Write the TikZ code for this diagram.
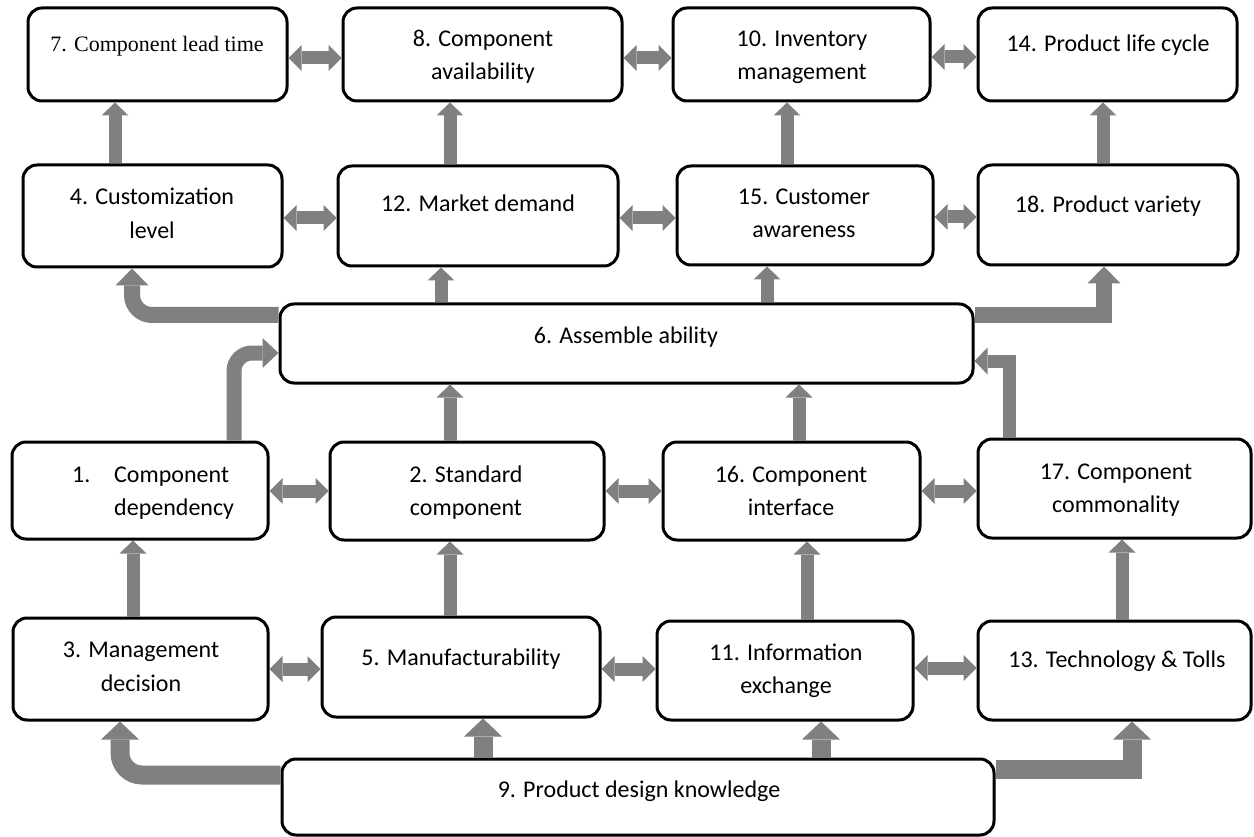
\documentclass[tikz,border=0pt]{standalone}
\usepackage{fontspec}
\setmainfont{Carlito}
\newfontfamily\timesfont{Liberation Serif}
\usetikzlibrary{arrows.meta,fit}
\definecolor{arrgray}{RGB}{128,128,128}
\begin{document}
\begin{tikzpicture}[x=1pt,y=-1pt,
  box/.style={draw=black,line width=3pt,rounded corners=14pt,fill=white,inner sep=0pt},
  txt/.style={inner sep=0pt,anchor=base,font=\fontsize{24}{29}\selectfont},
  ttxt/.style={inner sep=0pt,anchor=base,font=\timesfont\fontsize{22}{27}\selectfont},
  arr/.style n args={3}{draw=arrgray,line width=#1,-{Triangle[width=#2,length=#3,line width=0pt]}},
  arrS/.style={arr={13pt}{27pt}{13pt}},
  arrM/.style={arr={16pt}{33pt}{17pt}},
  arrL/.style={arr={19pt}{38pt}{18pt}},
  dbl/.style={draw=arrgray,line width=13pt,{Triangle[width=26pt,length=13pt,line width=0pt]}-{Triangle[width=26pt,length=13pt,line width=0pt]}}
]
\useasboundingbox (0,0) rectangle (1254,837);
% boxes
\node[box,fit={(28,8) (287,101)}] (b7) {};
\node[box,fit={(343,8) (622,101)}] (b8) {};
\node[box,fit={(673,8) (930,101)}] (b10) {};
\node[box,fit={(978,8) (1237,101)}] (b14) {};
\node[box,fit={(23,165) (282,267)}] (b4) {};
\node[box,fit={(338,166) (618,266)}] (b12) {};
\node[box,fit={(677,166) (933,265)}] (b15) {};
\node[box,fit={(978,165) (1238,265)}] (b18) {};
\node[box,fit={(280,304) (973,383)}] (b6) {};
\node[box,fit={(12,442) (268,539)}] (b1) {};
\node[box,fit={(330,442) (604,540)}] (b2) {};
\node[box,fit={(663,442) (920,540)}] (b16) {};
\node[box,fit={(978,439) (1251,538)}] (b17) {};
\node[box,fit={(13,618) (268,720)}] (b3) {};
\node[box,fit={(322,617) (600,717)}] (b5) {};
\node[box,fit={(657,621) (913,720)}] (b11) {};
\node[box,fit={(978,621) (1251,720)}] (b13) {};
\node[box,fit={(282,759) (994,835)}] (b9) {};
% texts
\node[ttxt] (t7) at (157,52) {7. Component lead time};
\node[txt] (t8a) at (483,47) {8. Component};
\node[txt] (t8b) at (483,80) {availability};
\node[txt] (t10a) at (802,47) {10. Inventory};
\node[txt] (t10b) at (802,80) {management};
\node[txt] (t14) at (1108,52) {14. Product life cycle};
\node[txt] (t4a) at (152,205) {4. Customization};
\node[txt] (t4b) at (152,239) {level};
\node[txt] (t12) at (478,212) {12. Market demand};
\node[txt] (t15a) at (804,205) {15. Customer};
\node[txt] (t15b) at (804,238) {awareness};
\node[txt] (t18) at (1108,213) {18. Product variety};
\node[txt] (t6) at (626,343) {6. Assemble ability};
\node[txt,anchor=base west] (t1n) at (72,482) {1.};
\node[txt,anchor=base west] (t1a) at (114,482) {Component};
\node[txt,anchor=base west] (t1b) at (114,515) {dependency};
\node[txt] (t2a) at (466,482) {2. Standard};
\node[txt] (t2b) at (466,515) {component};
\node[txt] (t16a) at (791,482) {16. Component};
\node[txt] (t16b) at (791,515) {interface};
\node[txt] (t17a) at (1116,479) {17. Component};
\node[txt] (t17b) at (1116,512) {commonality};
\node[txt] (t3a) at (141,657) {3. Management};
\node[txt] (t3b) at (141,691) {decision};
\node[txt] (t5) at (461,665) {5. Manufacturability};
\node[txt] (t11a) at (786,660) {11. Information};
\node[txt] (t11b) at (786,693) {exchange};
\node[txt] (t13) at (1117,667) {13. Technology \& Tolls};
\node[txt] (t9) at (639,797) {9. Product design knowledge};
% horizontal double arrows
\draw[dbl] (b7.east |- 0,58) -- (b8.west |- 0,58);
\draw[dbl] (b8.east |- 0,58) -- (b10.west |- 0,58);
\draw[dbl] (b10.east |- 0,57) -- (b14.west |- 0,57);
\draw[dbl] (b4.east |- 0,218) -- (b12.west |- 0,218);
\draw[dbl] (b12.east |- 0,218) -- (b15.west |- 0,218);
\draw[dbl] (b15.east |- 0,217) -- (b18.west |- 0,217);
\draw[dbl] (b1.east |- 0,491) -- (b2.west |- 0,491);
\draw[dbl] (b2.east |- 0,491) -- (b16.west |- 0,491);
\draw[dbl] (b16.east |- 0,491) -- (b17.west |- 0,491);
\draw[dbl] (b3.east |- 0,669) -- (b5.west |- 0,669);
\draw[dbl] (b5.east |- 0,669) -- (b11.west |- 0,669);
\draw[dbl] (b11.east |- 0,668) -- (b13.west |- 0,668);
% vertical arrows
\draw[arrS] (b4.north -| 115,0) -- (b7.south -| 115,0);
\draw[arrS] (b12.north -| 450,0) -- (b8.south -| 450,0);
\draw[arrS] (b15.north -| 787,0) -- (b10.south -| 787,0);
\draw[arrS] (b18.north -| 1103,0) -- (b14.south -| 1103,0);
\draw[arrS] (b6.north -| 441,0) -- (b12.south -| 441,0);
\draw[arrS] (b6.north -| 767,0) -- (b15.south -| 767,0);
\draw[arrS] (b2.north -| 450,0) -- (b6.south -| 450,0);
\draw[arrS] (b16.north -| 799,0) -- (b6.south -| 799,0);
\draw[arrS] (b3.north -| 133,0) -- (b1.south -| 133,0);
\draw[arrS] (b5.north -| 450,0) -- (b2.south -| 450,0);
\draw[arrS] (b11.north -| 807,0) -- (b16.south -| 807,0);
\draw[arrS] (b13.north -| 1122,0) -- (b17.south -| 1122,0);
\draw[arrL] (b9.north -| 483,0) -- (b5.south -| 483,0);
\draw[arrL] (b9.north -| 821,0) -- (b11.south -| 821,0);
% bent arrows
\draw[arrM,rounded corners=20pt] (b6.west |- 0,315) -| (b4.south -| 132,0);
\draw[arrM] (b6.east |- 0,315) -| (b18.south -| 1104,0);
\draw[arr={15pt}{30pt}{16pt},rounded corners=18pt] (b1.north -| 234,0) |- (b6.west |- 0,353);
\draw[arrS] (b17.north -| 1009,0) |- (b6.east |- 0,361);
\draw[arrL,rounded corners=22pt] (b9.west |- 0,775) -| (b3.south -| 120,0);
\draw[arrL] (b9.east |- 0,769) -| (b13.south -| 1132,0);
\end{tikzpicture}
\end{document}
